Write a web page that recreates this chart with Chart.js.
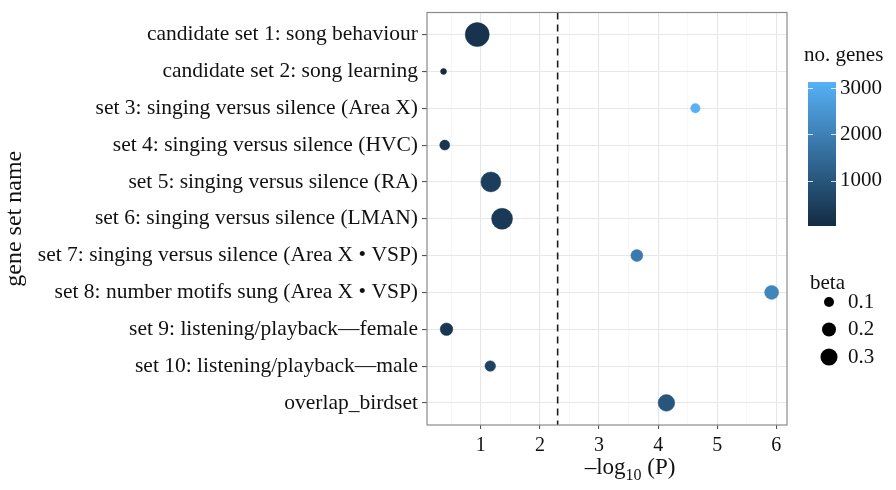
<!DOCTYPE html>
<html>
<head>
<meta charset="utf-8">
<script src="https://cdn.jsdelivr.net/npm/chart.js@4.4.1/dist/chart.umd.min.js"></script>
<style>
  body { margin: 0; background: #fff; }
  #wrap { width: 896px; height: 490px; }
</style>
</head>
<body>
<div id="wrap"><canvas id="chart"></canvas></div>
<script>
const geneSets = [
    'candidate set 1: song behaviour',
    'candidate set 2: song learning',
    'set 3: singing versus silence (Area X)',
    'set 4: singing versus silence (HVC)',
    'set 5: singing versus silence (RA)',
    'set 6: singing versus silence (LMAN)',
    'set 7: singing versus silence (Area X \u2022 VSP)',
    'set 8: number motifs sung (Area X \u2022 VSP)',
    'set 9: listening/playback\u2014female',
    'set 10: listening/playback\u2014male',
    'overlap_birdset'
]
const negLogP = [0.94, 0.37, 4.63, 0.39, 1.17, 1.36, 3.64, 5.92, 0.42, 1.16, 4.14]
const beta = [0.596, 0.033, 0.088, 0.10, 0.41, 0.455, 0.146, 0.20, 0.161, 0.113, 0.283]
const noGenes = [200, 20, 3130, 250, 450, 350, 1850, 2100, 300, 550, 1000]

const threshold = 2.3
const xTicks = [1, 2, 3, 4, 5, 6]
const colorTicks = [1000, 2000, 3000]
const betaTicks = [0.1, 0.2, 0.3]

const serif = '"Liberation Serif", "Times New Roman", serif'

// size + colour scales (ggplot-like)
const radius = (b) => Math.sqrt(1 + 240 * b)
const gMin = Math.min(...noGenes)
const gMax = Math.max(...noGenes)
const low = [0x13, 0x2B, 0x43]
const high = [0x56, 0xB1, 0xF7]
const geneColor = (g) => {
    const t = (g - gMin) / (gMax - gMin)
    const c = low.map((v, k) => Math.round(v + (high[k] - v) * t))
    return `rgb(${c[0]},${c[1]},${c[2]})`
}

const points = geneSets.map((name, i) => ({ x: negLogP[i], y: i + 1, r: radius(beta[i]) }))

const legendPlugin = {
    id: 'extras',
    afterDraw(chart) {
        const ctx = chart.ctx
        const a = chart.chartArea
        ctx.save()
        // panel border
        ctx.strokeStyle = '#8a8a8a'
        ctx.lineWidth = 1.2
        ctx.strokeRect(a.left, a.top, a.right - a.left, a.bottom - a.top)

        // x title with subscript
        ctx.fillStyle = '#111'
        ctx.textBaseline = 'alphabetic'
        const big = '23px ' + serif
        const small = '16px ' + serif
        ctx.font = big
        const w1 = ctx.measureText('\u2013log').width
        const w3 = ctx.measureText(' (P)').width
        ctx.font = small
        const w2 = ctx.measureText('10').width
        let x0 = 630 - (w1 + w2 + w3) / 2
        const base = 474
        ctx.font = big
        ctx.textAlign = 'left'
        ctx.fillText('\u2013log', x0, base)
        ctx.font = small
        ctx.fillText('10', x0 + w1, base + 6)
        ctx.font = big
        ctx.fillText(' (P)', x0 + w1 + w2, base)

        // colour bar legend
        ctx.font = '21px ' + serif
        ctx.textBaseline = 'middle'
        ctx.fillText('no. genes', 804, 55)
        const barL = 808, barW = 28, barT = 82, barB = 226
        const yOf = (g) => barB - (g - gMin) / (gMax - gMin) * (barB - barT)
        for (let y = barT; y < barB; y++) {
            const g = gMax - (y - barT + 0.5) / (barB - barT) * (gMax - gMin)
            ctx.fillStyle = geneColor(g)
            ctx.fillRect(barL, y, barW, 1)
        }
        ctx.strokeStyle = 'rgba(255,255,255,0.8)'
        ctx.lineWidth = 1
        ctx.fillStyle = '#111'
        for (const g of colorTicks) {
            const y = Math.round(yOf(g)) + 0.5
            ctx.beginPath()
            ctx.moveTo(barL, y); ctx.lineTo(barL + 5, y)
            ctx.moveTo(barL + barW - 5, y); ctx.lineTo(barL + barW, y)
            ctx.stroke()
            ctx.fillText(String(g), 840, yOf(g))
        }

        // size legend
        ctx.fillText('beta', 810, 283)
        betaTicks.forEach((b, k) => {
            const y = 302 + k * 27.5
            ctx.fillStyle = '#000'
            ctx.beginPath()
            ctx.arc(829, y, radius(b), 0, Math.PI * 2)
            ctx.fill()
            ctx.fillStyle = '#111'
            ctx.fillText(b.toFixed(1), 848, y)
        })
        ctx.restore()
    }
}

new Chart(document.getElementById('chart'), {
    type: 'bubble',
    data: {
        datasets: [{
            type: 'bubble',
            data: points,
            backgroundColor: noGenes.map(geneColor),
            borderColor: noGenes.map(geneColor),
            borderWidth: 0.5
        },
        {
            type: 'line',
            data: [{ x: threshold, y: 0.4 }, { x: threshold, y: 11.6 }],
            borderColor: '#1a1a1a',
            borderWidth: 1.6,
            borderDash: [7, 5],
            pointRadius: 0,
            fill: false
        }]
    },
    options: {
        responsive: true,
        maintainAspectRatio: false,
        animation: false,
        events: [],
        layout: { padding: { top: 6, right: 109, bottom: 0, left: 0 } },
        plugins: { legend: { display: false }, tooltip: { enabled: false } },
        scales: {
            x: {
                type: 'linear',
                min: 0.09,
                max: 6.18,
                afterFit: (s) => { s.height = 65; s.paddingLeft = 0; s.paddingRight = 0 },
                border: { display: false },
                grid: {
                    color: (c) => Number.isInteger(c.tick.value) ? '#e6e6e6' : '#f3f3f3',
                    lineWidth: (c) => Number.isInteger(c.tick.value) ? 1.1 : 0.6,
                    tickColor: (c) => xTicks.includes(c.tick.value) ? '#555' : 'rgba(0,0,0,0)',
                    tickLength: 4
                },
                ticks: {
                    stepSize: 0.5,
                    includeBounds: false,
                    autoSkip: false,
                    maxRotation: 0,
                    padding: 5,
                    color: '#111',
                    font: { family: serif, size: 20 },
                    callback: (v) => xTicks.includes(v) ? String(v) : ''
                }
            },
            y: {
                type: 'linear',
                reverse: true,
                min: 0.4,
                max: 11.6,
                afterFit: (s) => { s.width = 427; s.paddingTop = 0; s.paddingBottom = 0 },
                border: { display: false },
                grid: { color: '#e8e8e8', lineWidth: 1.1, tickColor: '#555', tickLength: 5 },
                ticks: {
                    stepSize: 1,
                    includeBounds: false,
                    autoSkip: false,
                    padding: 4,
                    color: '#111',
                    font: { family: serif, size: 21.5 },
                    callback: (v) => geneSets[v - 1] || ''
                },
                title: {
                    display: true,
                    text: 'gene set name',
                    color: '#111',
                    font: { family: serif, size: 24 },
                    padding: { top: 0, bottom: 0 }
                }
            }
        }
    },
    plugins: [legendPlugin]
});
</script>
</body>
</html>
